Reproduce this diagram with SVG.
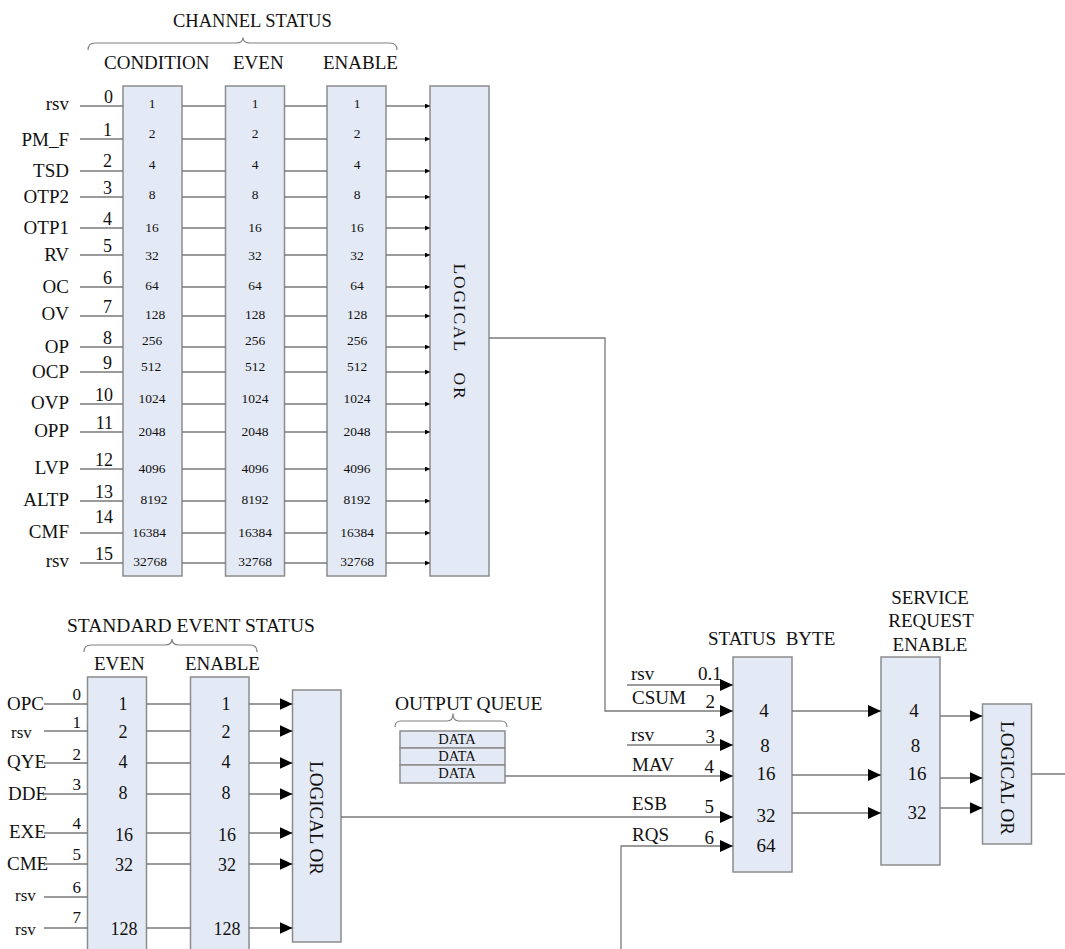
<svg xmlns="http://www.w3.org/2000/svg" width="1065" height="949" viewBox="0 0 1065 949">
<style>
.box{fill:#e4eaf5;stroke:#8c8c8c;stroke-width:1.5}
.ln{stroke:#7a7a7a;stroke-width:1.3;fill:none}
.br{stroke:#808080;stroke-width:1.2;fill:none}
text{font-family:"Liberation Serif","Times New Roman",serif;fill:#111}
.f19{font-size:19px}
.f18{font-size:18px}
.f17{font-size:17px}
.f13{font-size:13.5px}
.mid{text-anchor:middle}
.end{text-anchor:end}
.arr{marker-end:url(#ah)}
.arrs{marker-end:url(#as)}
</style>
<defs>
<marker id="ah" markerUnits="userSpaceOnUse" markerWidth="13" markerHeight="12" refX="13" refY="6" orient="auto"><path d="M0,0 L13,6 L0,12 z" fill="#000"/></marker>
<marker id="as" markerUnits="userSpaceOnUse" markerWidth="5" markerHeight="5" refX="5" refY="2.5" orient="auto"><path d="M0,0 L5,2.5 L0,5 z" fill="#000"/></marker>
</defs>

<!-- Channel status headings -->
<g id="channel-status-title">
<text x="173" y="26.5" style="font-size:18.5px">CHANNEL STATUS</text>
<path class="br" d="M88,50 Q88,43 95,43 L236,43 Q243,43 243,37.5 Q243,43 250,43 L390,43 Q397,43 397,50"/>
<text x="104" y="69" class="f19">CONDITION</text>
<text x="233" y="69" class="f19">EVEN</text>
<text x="323" y="69" class="f19">ENABLE</text>
</g>

<!-- Channel inputs -->
<g id="channel-inputs" class="f19">
<text x="69" y="110" class="end">rsv</text>
<text x="69" y="146" class="end">PM_F</text>
<text x="69" y="177" class="end">TSD</text>
<text x="69" y="203" class="end">OTP2</text>
<text x="69" y="234" class="end">OTP1</text>
<text x="69" y="261" class="end">RV</text>
<text x="69" y="293" class="end">OC</text>
<text x="69" y="320" class="end">OV</text>
<text x="69" y="353" class="end">OP</text>
<text x="69" y="378" class="end">OCP</text>
<text x="69" y="409" class="end">OVP</text>
<text x="69" y="437" class="end">OPP</text>
<text x="69" y="474" class="end">LVP</text>
<text x="69" y="506" class="end">ALTP</text>
<text x="69" y="538" class="end">CMF</text>
<text x="69" y="567" class="end">rsv</text>
</g>
<g id="channel-bits" class="f18">
<text x="113" y="103" class="end">0</text>
<text x="112" y="136" class="end">1</text>
<text x="112" y="167" class="end">2</text>
<text x="112" y="194" class="end">3</text>
<text x="112" y="225" class="end">4</text>
<text x="112" y="252" class="end">5</text>
<text x="112" y="284" class="end">6</text>
<text x="112" y="313" class="end">7</text>
<text x="112" y="344" class="end">8</text>
<text x="112" y="369" class="end">9</text>
<text x="113" y="401" class="end">10</text>
<text x="113" y="429" class="end">11</text>
<text x="113" y="466" class="end">12</text>
<text x="113" y="498" class="end">13</text>
<text x="113" y="523" class="end">14</text>
<text x="113" y="560" class="end">15</text>
</g>

<g id="channel-condition">
<rect class="box" x="123" y="86" width="59" height="490"/>
<g class="f13 mid">
<text x="152" y="108">1</text><text x="152" y="138">2</text><text x="152" y="169">4</text><text x="152" y="199">8</text>
<text x="152" y="232">16</text><text x="152" y="260">32</text><text x="152" y="290">64</text><text x="155" y="319">128</text>
<text x="152" y="345">256</text><text x="151" y="371">512</text><text x="152" y="403">1024</text><text x="152" y="436">2048</text>
<text x="152" y="473">4096</text><text x="154" y="504">8192</text><text x="149" y="537">16384</text><text x="150" y="566">32768</text>
</g>
</g>
<g id="channel-even">
<rect class="box" x="225.5" y="86" width="59" height="490"/>
<g class="f13 mid">
<text x="255" y="108">1</text><text x="255" y="138">2</text><text x="255" y="169">4</text><text x="255" y="199">8</text>
<text x="255" y="232">16</text><text x="255" y="260">32</text><text x="255" y="290">64</text><text x="255" y="319">128</text>
<text x="255" y="345">256</text><text x="255" y="371">512</text><text x="255" y="403">1024</text><text x="255" y="436">2048</text>
<text x="255" y="473">4096</text><text x="255" y="504">8192</text><text x="255" y="537">16384</text><text x="255" y="566">32768</text>
</g>
</g>
<g id="channel-enable">
<rect class="box" x="327" y="86" width="59" height="490"/>
<g class="f13 mid">
<text x="357" y="108">1</text><text x="357" y="138">2</text><text x="357" y="169">4</text><text x="357" y="199">8</text>
<text x="357" y="232">16</text><text x="357" y="260">32</text><text x="357" y="290">64</text><text x="357" y="319">128</text>
<text x="357" y="345">256</text><text x="357" y="371">512</text><text x="357" y="403">1024</text><text x="357" y="436">2048</text>
<text x="357" y="473">4096</text><text x="357" y="504">8192</text><text x="357" y="537">16384</text><text x="357" y="566">32768</text>
</g>
</g>
<g id="channel-or">
<rect class="box" x="430" y="86" width="59" height="490"/>
<text transform="translate(460,332) rotate(90)" class="mid" dy="0.33em" style="font-size:17.5px;letter-spacing:1.8px;word-spacing:4px" xml:space="preserve">LOGICAL  OR</text>
</g>

<!-- Standard event status -->
<g id="std-title">
<text x="67" y="632" style="font-size:19.5px">STANDARD EVENT STATUS</text>
<path class="br" d="M84,652 Q84,645 91,645 L165,645 Q172,645 172,639 Q172,645 179,645 L250,645 Q257,645 257,652"/>
<text x="94" y="670" class="f19">EVEN</text>
<text x="185" y="670" class="f19">ENABLE</text>
</g>
<g id="std-inputs">
<text x="7" y="710" class="f19">OPC</text>
<text x="11" y="737.5" class="f17">rsv</text>
<text x="7" y="768" class="f19">QYE</text>
<text x="8" y="800" class="f19">DDE</text>
<text x="9" y="838" class="f19">EXE</text>
<text x="7" y="870" class="f19">CME</text>
<text x="15" y="900.5" class="f17">rsv</text>
<text x="15" y="935" class="f17">rsv</text>
<g class="f17 end">
<text x="81" y="700">0</text><text x="81" y="727.5">1</text><text x="81" y="760">2</text><text x="81" y="790">3</text>
<text x="81" y="829">4</text><text x="81" y="860">5</text><text x="81" y="892.5">6</text><text x="81" y="923">7</text>
</g>
</g>
<g id="std-even">
<rect class="box" x="87.5" y="677" width="59" height="290"/>
<g class="f18 mid">
<text x="123" y="710">1</text><text x="123" y="737.5">2</text><text x="123" y="768">4</text><text x="123" y="799">8</text>
<text x="124" y="840.5">16</text><text x="124" y="870.5">32</text><text x="124" y="935">128</text>
</g>
</g>
<g id="std-enable">
<rect class="box" x="190.5" y="677" width="58.5" height="290"/>
<g class="f18 mid">
<text x="226" y="710">1</text><text x="226" y="737.5">2</text><text x="226" y="768">4</text><text x="226" y="799">8</text>
<text x="227" y="840.5">16</text><text x="227" y="870.5">32</text><text x="227" y="935">128</text>
</g>
</g>
<g id="std-or">
<rect class="box" x="292.5" y="690" width="48.5" height="252"/>
<text transform="translate(316.5,818) rotate(90)" class="mid f19" dy="0.33em">LOGICAL OR</text>
</g>

<!-- Output queue -->
<g id="output-queue">
<text x="395" y="710" style="font-size:19.5px">OUTPUT QUEUE</text>
<path class="br" d="M395,727 Q395,721 401,721 L447,721 Q453,721 453,713.5 Q453,721 459,721 L501,721 Q507,721 507,727"/>
<rect class="box" x="400" y="731" width="105" height="17"/>
<rect class="box" x="400" y="748" width="105" height="17"/>
<rect class="box" x="400" y="765" width="105" height="18"/>
<g class="mid" style="font-size:14.5px">
<text x="457" y="744">DATA</text><text x="457" y="761">DATA</text><text x="457" y="778">DATA</text>
</g>
</g>

<!-- Status byte -->
<g id="status-byte">
<text x="708" y="645" class="f19" xml:space="preserve">STATUS  BYTE</text>
<rect class="box" x="733" y="657" width="59" height="215"/>
<g class="f19 mid">
<text x="764" y="716.5">4</text><text x="765" y="752">8</text><text x="766" y="780">16</text><text x="766" y="821.5">32</text><text x="766" y="851.5">64</text>
</g>
</g>
<g id="status-byte-inputs" class="f19">
<text x="631" y="680">rsv</text><text x="698" y="680">0.1</text>
<text x="632" y="704">CSUM</text><text x="715" y="708" class="end">2</text>
<text x="631" y="741">rsv</text><text x="715" y="742.5" class="end">3</text>
<text x="632" y="770.5">MAV</text><text x="714" y="772.5" class="end">4</text>
<text x="632" y="810">ESB</text><text x="714" y="812.5" class="end">5</text>
<text x="632" y="841">RQS</text><text x="714" y="843.5" class="end">6</text>
</g>

<!-- Service request enable -->
<g id="service-request-enable">
<g class="f19 mid">
<text x="930" y="604">SERVICE</text>
<text x="931" y="627">REQUEST</text>
<text x="930" y="651">ENABLE</text>
</g>
<rect class="box" x="881" y="657" width="59" height="208"/>
<g class="f19 mid">
<text x="914" y="716.5">4</text><text x="915.5" y="752">8</text><text x="917" y="780">16</text><text x="917" y="819">32</text>
</g>
</g>
<g id="service-or">
<rect class="box" x="982.5" y="704" width="49" height="140"/>
<text transform="translate(1007,778) rotate(90)" class="mid f19" dy="0.33em">LOGICAL OR</text>
</g>

<!-- Connectors -->
<g id="connectors">
<g class="ln">
<path d="M80,106H123M80,139H123M80,171H123M80,197H123M80,228H123M80,255H123M80,287H123M80,316H123M80,347H123M80,372H123M80,404H123M80,432H123M80,469H123M80,501H123M80,533H123M80,563H123"/>
<path d="M182,106H225.5M182,139H225.5M182,171H225.5M182,197H225.5M182,228H225.5M182,255H225.5M182,287H225.5M182,316H225.5M182,347H225.5M182,372H225.5M182,404H225.5M182,432H225.5M182,469H225.5M182,501H225.5M182,533H225.5M182,563H225.5"/>
<path d="M284.5,106H327M284.5,139H327M284.5,171H327M284.5,197H327M284.5,228H327M284.5,255H327M284.5,287H327M284.5,316H327M284.5,347H327M284.5,372H327M284.5,404H327M284.5,432H327M284.5,469H327M284.5,501H327M284.5,533H327M284.5,563H327"/>
</g>
<g class="ln arrs">
<line x1="386" y1="106" x2="430" y2="106"/><line x1="386" y1="139" x2="430" y2="139"/>
<line x1="386" y1="171" x2="430" y2="171"/><line x1="386" y1="197" x2="430" y2="197"/>
<line x1="386" y1="228" x2="430" y2="228"/><line x1="386" y1="255" x2="430" y2="255"/>
<line x1="386" y1="287" x2="430" y2="287"/><line x1="386" y1="316" x2="430" y2="316"/>
<line x1="386" y1="347" x2="430" y2="347"/><line x1="386" y1="372" x2="430" y2="372"/>
<line x1="386" y1="404" x2="430" y2="404"/><line x1="386" y1="432" x2="430" y2="432"/>
<line x1="386" y1="469" x2="430" y2="469"/><line x1="386" y1="501" x2="430" y2="501"/>
<line x1="386" y1="533" x2="430" y2="533"/><line x1="386" y1="563" x2="430" y2="563"/>
</g>
<g class="ln">
<path d="M44,704H87.5M44,731H87.5M44,763H87.5M44,794H87.5M44,833H87.5M44,864H87.5M44,897H87.5M44,928H87.5"/>
<path d="M146.5,704H190.5M146.5,731H190.5M146.5,763H190.5M146.5,794H190.5M146.5,833H190.5M146.5,864H190.5M146.5,928H190.5"/>
</g>
<g class="ln arr">
<line x1="249" y1="704" x2="292.5" y2="704"/><line x1="249" y1="731" x2="292.5" y2="731"/>
<line x1="249" y1="763" x2="292.5" y2="763"/><line x1="249" y1="794" x2="292.5" y2="794"/>
<line x1="249" y1="833" x2="292.5" y2="833"/><line x1="249" y1="864" x2="292.5" y2="864"/>
<line x1="249" y1="928" x2="292.5" y2="928"/>
<line x1="627" y1="685" x2="733" y2="685"/>
<path d="M489,338H605V711H733"/>
<line x1="627" y1="745" x2="733" y2="745"/>
<line x1="505" y1="776" x2="733" y2="776"/>
<line x1="341" y1="817" x2="733" y2="817"/>
<path d="M621,949V846H733"/>
<line x1="792" y1="711" x2="881" y2="711"/>
<line x1="792" y1="775" x2="881" y2="775"/>
<line x1="792" y1="813" x2="881" y2="813"/>
<line x1="940" y1="716" x2="982.5" y2="716"/>
<line x1="940" y1="778" x2="982.5" y2="778"/>
<line x1="940" y1="808" x2="982.5" y2="808"/>
</g>
<line class="ln" x1="1031.5" y1="774" x2="1065" y2="774"/>
</g>
</svg>
